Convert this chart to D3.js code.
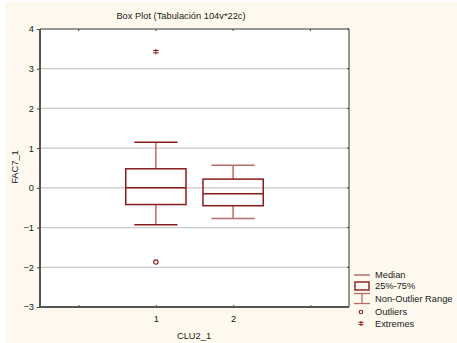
<!DOCTYPE html>
<html>
<head>
<meta charset="utf-8">
<script src="https://cdn.jsdelivr.net/npm/d3@7"></script>
<style>
  html, body { margin: 0; padding: 0; background: #ffffff; }
  svg { display: block; }
  text { font-family: "Liberation Sans", Arial, sans-serif; fill: #1a1a1a; }
</style>
</head>
<body>
<svg id="chart" width="457" height="343"></svg>
<script>
// Box plot summary per cluster
const categories = ["1", "2"];
const catPositions = [1, 2];
const q1Values = [-0.42, -0.45];
const medianValues = [0.0, -0.15];
const q3Values = [0.48, 0.22];
const whiskerLow = [-0.93, -0.77];
const whiskerHigh = [1.15, 0.57];
const outliers = [{ cat: 1, value: -1.87 }];
const extremes = [{ cat: 1, value: 3.43 }];

const yTicks = [-3, -2, -1, 0, 1, 2, 3, 4];
const xTickPositions = [0, 1, 2, 3];
const xTickLabels = ["", "1", "2", ""];

const titleText = "Box Plot (Tabulación 104v*22c)";
const yLabel = "FAC7_1";
const xLabel = "CLU2_1";
const legendItems = ["Median", "25%-75%", "Non-Outlier Range", "Outliers", "Extremes"];

const dark = "#8a1c1c";
const light = "#b86b6b";
const fs = 9.3;

const svg = d3.select("#chart");

// cream panel
svg.append("rect").attr("x", 5).attr("y", 2).attr("width", 452).attr("height", 341)
  .attr("fill", "#fdf9ee");

const plot = { left: 40, top: 29, right: 349, bottom: 307 };

const x = d3.scaleLinear().domain([-0.5, 3.5]).range([plot.left, plot.right]);
const y = d3.scaleLinear().domain([-3, 4]).range([plot.bottom, plot.top]);

svg.append("rect")
  .attr("x", plot.left).attr("y", plot.top)
  .attr("width", plot.right - plot.left).attr("height", plot.bottom - plot.top)
  .attr("fill", "#ffffff");

// gridlines
svg.append("g").selectAll("line")
  .data(yTicks.filter(t => t > -3 && t < 4))
  .join("line")
  .attr("x1", plot.left).attr("x2", plot.right)
  .attr("y1", d => y(d)).attr("y2", d => y(d))
  .attr("stroke", "#c9c9c9").attr("stroke-width", 1.3);

// axes
const yAxis = d3.axisLeft(y).tickValues(yTicks).tickSize(3).tickPadding(3).tickFormat(d3.format("d"));
const gy = svg.append("g").attr("transform", `translate(${plot.left},0)`).call(yAxis);
gy.select(".domain").remove();
gy.selectAll("line").attr("stroke", "#444");
gy.selectAll("text").attr("font-size", fs).attr("fill", "#1a1a1a").style("font-family", "Liberation Sans, Arial, sans-serif");

const xAxis = d3.axisBottom(x).tickValues(xTickPositions).tickSize(-2).tickPadding(8)
  .tickFormat((d, i) => xTickLabels[i]);
const gx = svg.append("g").attr("transform", `translate(0,${plot.bottom})`).call(xAxis);
gx.select(".domain").remove();
gx.selectAll("line").attr("stroke", "#444");
gx.selectAll("text").attr("font-size", fs).attr("fill", "#1a1a1a").style("font-family", "Liberation Sans, Arial, sans-serif");

// inner tick marks on top and right
svg.append("g").selectAll("line").data(xTickPositions).join("line")
  .attr("x1", d => x(d)).attr("x2", d => x(d))
  .attr("y1", plot.top).attr("y2", plot.top + 2)
  .attr("stroke", "#444");
svg.append("g").selectAll("line").data(yTicks).join("line")
  .attr("x1", plot.right - 2).attr("x2", plot.right)
  .attr("y1", d => y(d)).attr("y2", d => y(d))
  .attr("stroke", "#444");

// frame
svg.append("line").attr("x1", plot.left).attr("x2", plot.right).attr("y1", plot.top).attr("y2", plot.top)
  .attr("stroke", "#333").attr("stroke-width", 1);
svg.append("line").attr("x1", plot.right).attr("x2", plot.right).attr("y1", plot.top).attr("y2", plot.bottom)
  .attr("stroke", "#333").attr("stroke-width", 1);
svg.append("line").attr("x1", plot.left).attr("x2", plot.left).attr("y1", plot.top).attr("y2", plot.bottom + 1)
  .attr("stroke", "#555").attr("stroke-width", 2);
svg.append("line").attr("x1", plot.left - 1).attr("x2", plot.right).attr("y1", plot.bottom).attr("y2", plot.bottom)
  .attr("stroke", "#555").attr("stroke-width", 2);

// boxes
const boxHalf = x(0.39) - x(0);
const capHalf = x(0.28) - x(0);
const boxes = svg.append("g");
catPositions.forEach((c, i) => {
  const cx = x(c);
  // whiskers
  boxes.append("line").attr("x1", cx).attr("x2", cx).attr("y1", y(q3Values[i])).attr("y2", y(whiskerHigh[i]))
    .attr("stroke", light).attr("stroke-width", 1.5);
  boxes.append("line").attr("x1", cx).attr("x2", cx).attr("y1", y(q1Values[i])).attr("y2", y(whiskerLow[i]))
    .attr("stroke", light).attr("stroke-width", 1.5);
  [whiskerHigh[i], whiskerLow[i]].forEach(v => {
    boxes.append("line").attr("x1", cx - capHalf).attr("x2", cx + capHalf).attr("y1", y(v)).attr("y2", y(v))
      .attr("stroke", i === 0 ? dark : light).attr("stroke-width", 1.5);
  });
  boxes.append("rect")
    .attr("x", cx - boxHalf).attr("y", y(q3Values[i]))
    .attr("width", boxHalf * 2).attr("height", y(q1Values[i]) - y(q3Values[i]))
    .attr("fill", "none").attr("stroke", dark).attr("stroke-width", 1.5);
  boxes.append("line").attr("x1", cx - boxHalf).attr("x2", cx + boxHalf)
    .attr("y1", y(medianValues[i])).attr("y2", y(medianValues[i]))
    .attr("stroke", dark).attr("stroke-width", 1.5);
});

// outliers
svg.append("g").selectAll("circle").data(outliers).join("circle")
  .attr("cx", d => x(d.cat)).attr("cy", d => y(d.value)).attr("r", 2.2)
  .attr("fill", "none").attr("stroke", dark).attr("stroke-width", 1.1);

// extremes: asterisk marker
function asterisk(g, cx, cy, s) {
  g.append("line").attr("x1", cx - s).attr("x2", cx + s).attr("y1", cy - 1.2).attr("y2", cy - 1.2).attr("stroke", dark).attr("stroke-width", 1);
  g.append("line").attr("x1", cx - s).attr("x2", cx + s).attr("y1", cy + 1.2).attr("y2", cy + 1.2).attr("stroke", dark).attr("stroke-width", 1);
  g.append("line").attr("x1", cx).attr("x2", cx).attr("y1", cy - s).attr("y2", cy + s).attr("stroke", dark).attr("stroke-width", 1);
}
const ext = svg.append("g");
extremes.forEach(d => asterisk(ext, x(d.cat), y(d.value), 2.8));

// title and axis labels
svg.append("text").attr("x", 181).attr("y", 19).attr("text-anchor", "middle")
  .attr("font-size", fs).text(titleText);
svg.append("text").attr("transform", "translate(17.5,167) rotate(-90)").attr("text-anchor", "middle")
  .attr("font-size", fs).text(yLabel);
svg.append("text").attr("x", 194).attr("y", 339).attr("text-anchor", "middle")
  .attr("font-size", fs).text(xLabel);

// legend
const lg = svg.append("g");
const lx = 354, lw = 16, tx = 375;
const rowY = [275, 286, 299, 312, 323.5];
lg.append("line").attr("x1", lx).attr("x2", lx + lw).attr("y1", rowY[0]).attr("y2", rowY[0])
  .attr("stroke", light).attr("stroke-width", 1.5);
lg.append("rect").attr("x", lx + 1).attr("y", rowY[1] - 4).attr("width", lw - 2).attr("height", 8)
  .attr("fill", "none").attr("stroke", dark).attr("stroke-width", 1.4);
lg.append("line").attr("x1", lx).attr("x2", lx + lw).attr("y1", rowY[2] - 5.5).attr("y2", rowY[2] - 5.5)
  .attr("stroke", light).attr("stroke-width", 1.3);
lg.append("line").attr("x1", lx).attr("x2", lx + lw).attr("y1", rowY[2] + 4.5).attr("y2", rowY[2] + 4.5)
  .attr("stroke", light).attr("stroke-width", 1.3);
lg.append("line").attr("x1", lx + lw / 2).attr("x2", lx + lw / 2).attr("y1", rowY[2] - 5.5).attr("y2", rowY[2] + 4.5)
  .attr("stroke", light).attr("stroke-width", 1.3);
lg.append("circle").attr("cx", lx + 7).attr("cy", rowY[3]).attr("r", 1.8)
  .attr("fill", "none").attr("stroke", dark).attr("stroke-width", 1.1);
asterisk(lg, lx + 7, rowY[4], 2.5);
lg.selectAll("text").data(legendItems).join("text")
  .attr("x", tx).attr("y", (d, i) => rowY[i] + 3.2)
  .attr("font-size", fs).text(d => d);
</script>
</body>
</html>
